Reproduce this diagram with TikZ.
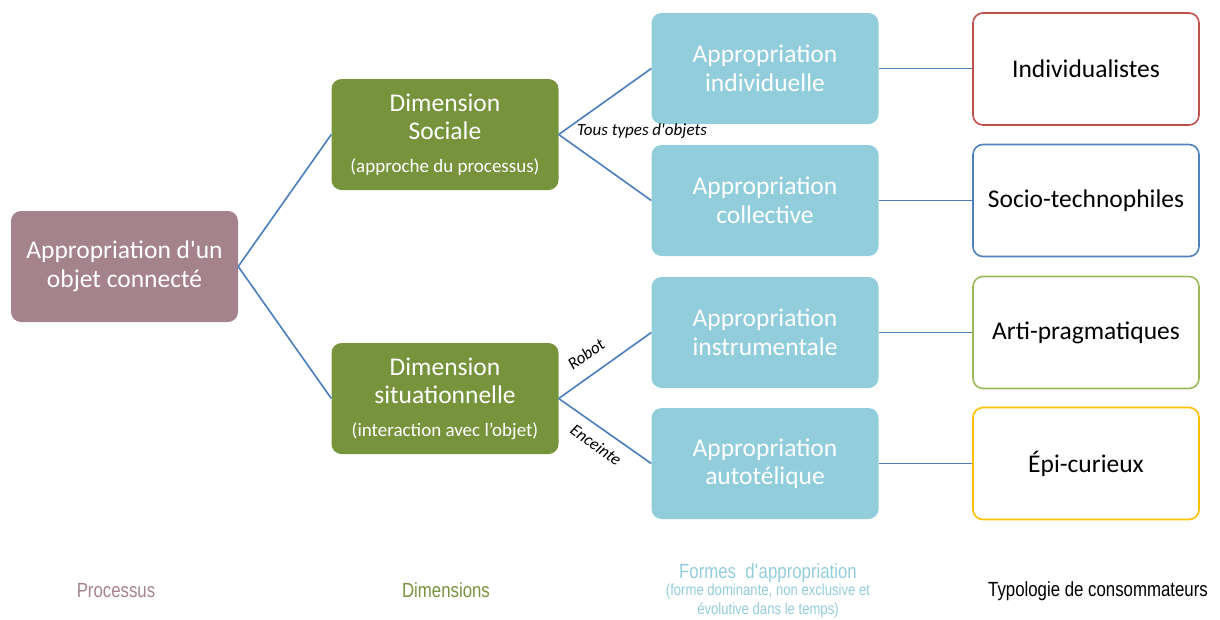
\documentclass[tikz,border=0pt]{standalone}
\usepackage{fontspec}
\setmainfont{Carlito}
\newfontfamily\narrowfont[FakeStretch=0.82]{Liberation Sans}
\definecolor{mauve}{HTML}{A5838C}
\definecolor{olive}{HTML}{77933C}
\definecolor{lblue}{HTML}{92CDDC}
\definecolor{linkblue}{HTML}{4A7EBB}
\definecolor{cred}{HTML}{C0504D}
\definecolor{cblue}{HTML}{4F81BD}
\definecolor{cgreen}{HTML}{9BBB59}
\definecolor{cyellow}{HTML}{FFC000}
\tikzset{
  basebox/.style={rounded corners=10pt, minimum width=227pt, minimum height=111pt, align=center, inner sep=2pt, font=\fontsize{25.5}{28.5}\selectfont},
  procbox/.style={basebox, fill=mauve, text=white},
  dimbox/.style={basebox, fill=olive, text=white},
  formbox/.style={basebox, fill=lblue, text=white},
  typebox/.style={basebox, minimum width=226pt, minimum height=112pt, draw, line width=1.6pt, fill=white, text=black},
  link/.style={draw=linkblue, line width=1.6pt},
  edgelabel/.style={font=\fontsize{17}{20}\selectfont\itshape, text=black, inner sep=1pt},
  legend/.style={font=\narrowfont\fontsize{20.5}{24}\selectfont, align=center, inner sep=0pt}
}
\begin{document}
\begin{tikzpicture}[x=1pt,y=-1pt]
\useasboundingbox (0,0) rectangle (1220,619);
% nodes
\node[procbox] (proc) at (124.5,266.5) {Appropriation d\textquotesingle un\\objet connecté};
\node[dimbox] (soc) at (445,134.5) {Dimension\\Sociale\\[4pt]{\fontsize{19}{22}\selectfont(approche du processus)}};
\node[dimbox] (sit) at (445,398.5) {Dimension\\situationnelle\\[4pt]{\fontsize{19}{22}\selectfont(interaction avec l’objet)}};
\node[formbox] (ind) at (765,68.5) {Appropriation\\individuelle};
\node[formbox] (col) at (765,200.5) {Appropriation\\collective};
\node[formbox] (ins) at (765,332.5) {Appropriation\\instrumentale};
\node[formbox] (aut) at (765,463.5) {Appropriation\\autotélique};
\node[typebox, draw=cred] (t1) at (1086,69) {Individualistes};
\node[typebox, draw=cblue] (t2) at (1086,200.5) {Socio-technophiles};
\node[typebox, draw=cgreen] (t3) at (1086,332.5) {Arti-pragmatiques};
\node[typebox, draw=cyellow] (t4) at (1086,463.5) {Épi-curieux};
% connectors
\draw[link] (proc.east) -- (soc.west);
\draw[link] (proc.east) -- (sit.west);
\draw[link] (soc.east) -- (ind.west);
\draw[link] (soc.east) -- (col.west);
\draw[link] (sit.east) -- (ins.west);
\draw[link] (sit.east) -- (aut.west);
\draw[link] (ind.east) -- (t1.west |- ind.east);
\draw[link] (col.east) -- (t2.west |- col.east);
\draw[link] (ins.east) -- (t3.west |- ins.east);
\draw[link] (aut.east) -- (t4.west |- aut.east);
\node[edgelabel] (ltous) at (642,131) {Tous types d\textquotesingle objets};
\node[edgelabel, rotate=36] (lrob) at (586,354) {Robot};
\node[edgelabel, rotate=-36] (lenc) at (596,445) {Enceinte};
% legend
\node[legend, text=mauve] (lg1) at (116,591) {Processus};
\node[legend, text=olive] (lg2) at (446,590) {Dimensions};
\node[legend, text=lblue] (lg3) at (768,573) {Formes\ \ d\textquotesingle appropriation};
\node[legend, text=lblue, font=\narrowfont\fontsize{16}{18.5}\selectfont] (lg3b) at (768,601) {(forme dominante, non exclusive et\\évolutive dans le temps)};
\node[legend, text=black] (lg4) at (1098,591) {Typologie de consommateurs};
\end{tikzpicture}
\end{document}
